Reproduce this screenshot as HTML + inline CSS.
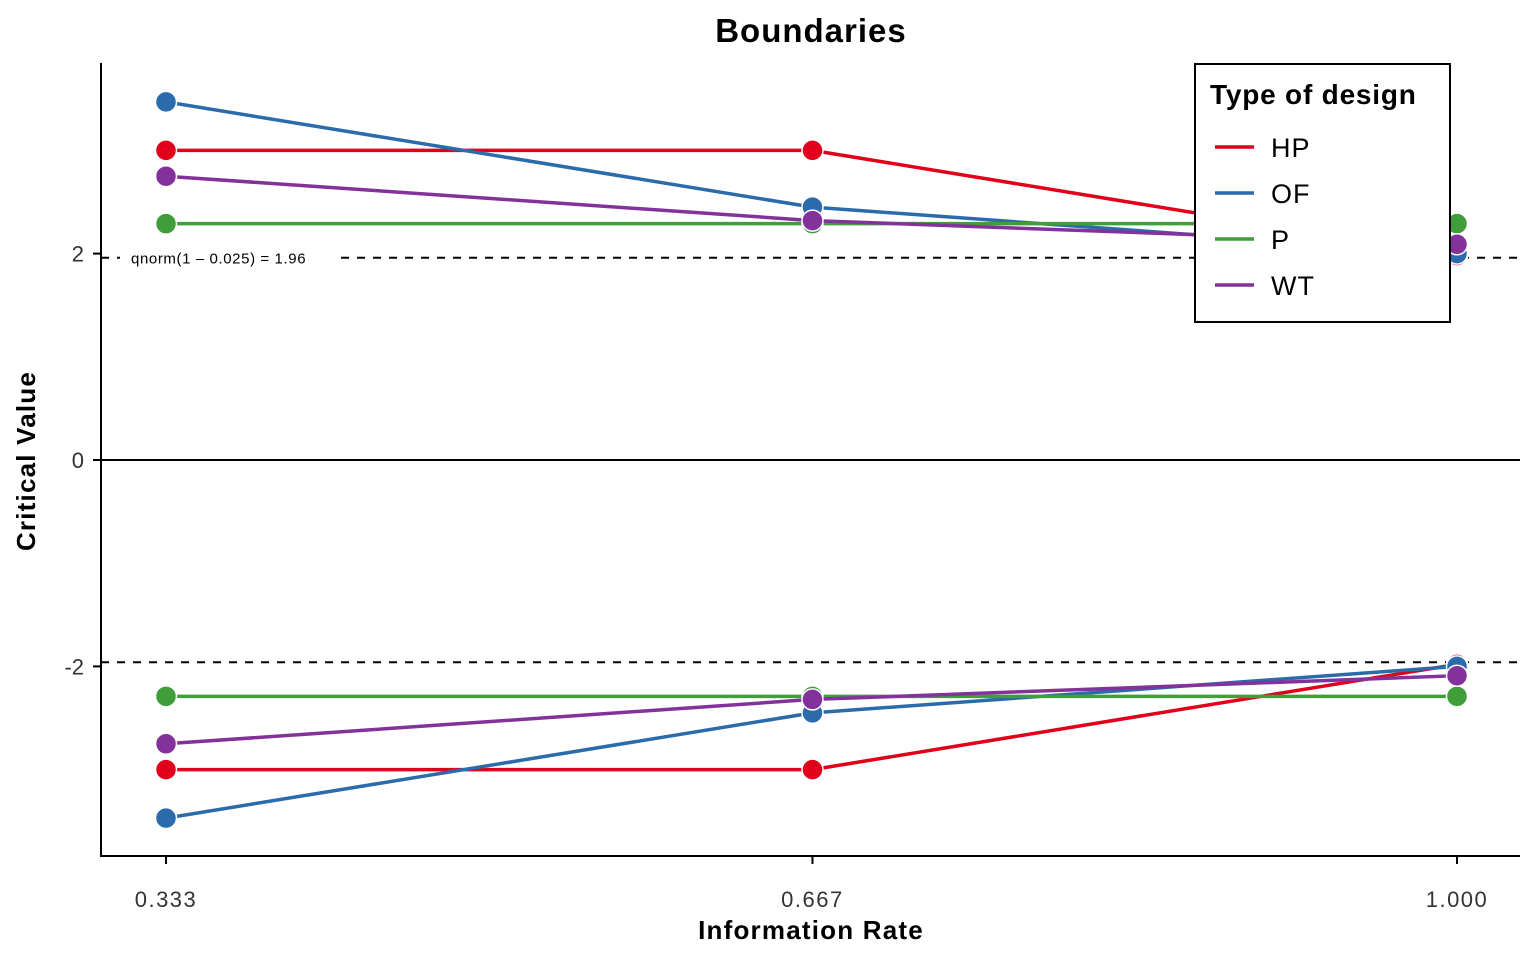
<!DOCTYPE html>
<html><head><meta charset="utf-8">
<style>
html,body{margin:0;padding:0;background:#fff;}
svg{display:block;font-family:"Liberation Sans",Arial,sans-serif;}
</style></head>
<body>
<svg id="chart" width="1536" height="960" viewBox="0 0 1536 960">
<rect width="1536" height="960" fill="#fff"/>
<text x="811" y="42" text-anchor="middle" font-size="33" font-weight="bold" letter-spacing="1">Boundaries</text>
<g id="plot"></g>
<line x1="101" y1="63" x2="101" y2="857" stroke="#000" stroke-width="2"/>
<line x1="100" y1="856" x2="1520" y2="856" stroke="#000" stroke-width="2"/>
<text x="811" y="939" text-anchor="middle" font-size="26" font-weight="bold" letter-spacing="1.2">Information Rate</text>
<text transform="translate(35,461) rotate(-90)" text-anchor="middle" font-size="26" font-weight="bold" letter-spacing="1.2">Critical Value</text>
<g id="legend-layer"></g>
</svg>
<script>
const xValues = [0.333, 0.667, 1.0];
const xTickLabels = ["0.333", "0.667", "1.000"];
const yTicks = [2, 0, -2];
const yTickLabels = ["2", "0", "-2"];
const seriesNames = ["HP", "OF", "P", "WT"];
const seriesColors = ["#e0001b", "#2b6aab", "#3f9e3a", "#84329b"];
const upperHP = [3.0, 3.0, 1.98];
const upperOF = [3.47, 2.45, 2.0];
const upperP = [2.29, 2.29, 2.29];
const upperWT = [2.75, 2.32, 2.09];
const lowerHP = [-3.0, -3.0, -1.98];
const lowerOF = [-3.47, -2.45, -2.0];
const lowerP = [-2.29, -2.29, -2.29];
const lowerWT = [-2.75, -2.32, -2.09];
const criticalLine = 1.96;

const NS = "http://www.w3.org/2000/svg";
function xs(v){ return 166 + (v - 0.333) / (1.0 - 0.333) * (1457 - 166); }
function ys(v){ return 460 - v * 103.2; }
const plot = document.getElementById("plot");
const svg = document.getElementById("chart");
function mk(tag, attrs, parent){
  const e = document.createElementNS(NS, tag);
  for (const k in attrs) e.setAttribute(k, attrs[k]);
  (parent || plot).appendChild(e);
  return e;
}
let z = mk("line", {x1:101, x2:1520, y1:ys(0), y2:ys(0), stroke:"#000", "stroke-width":2});


[criticalLine, -criticalLine].forEach((c, i) => {
  const d = mk("line", {x1:101, x2:1520, y1:ys(c), y2:ys(c), stroke:"#000", "stroke-width":2, "stroke-dasharray":"8,8"});
  
  
});
// annotation with white background
const bg = mk("rect", {x:120, y:ys(criticalLine)-10, width:218, height:20, fill:"#fff"});


const an = mk("text", {x:131, y:ys(criticalLine)+6, "font-size":15, "letter-spacing":"0.6"});
an.textContent = "qnorm(1 – 0.025) = 1.96";


yTicks.forEach((t, i) => {
  const l = mk("line", {x1:93, x2:101, y1:ys(t), y2:ys(t), stroke:"#000", "stroke-width":2}, svg);
  
  
  const tx = mk("text", {x:84, y:ys(t)+8, "text-anchor":"end", "font-size":22, fill:"#333"}, svg);
  tx.textContent = yTickLabels[i];
  
  
});
xValues.forEach((v, i) => {
  const l = mk("line", {x1:xs(v), x2:xs(v), y1:856, y2:864, stroke:"#000", "stroke-width":2}, svg);
  
  
  const tx = mk("text", {x:xs(v), y:907, "text-anchor":"middle", "font-size":22, fill:"#333", "letter-spacing":"1.5"}, svg);
  tx.textContent = xTickLabels[i];
  
  
});
const upper = [upperHP, upperOF, upperP, upperWT];
const lower = [lowerHP, lowerOF, lowerP, lowerWT];
seriesNames.forEach((name, s) => {
  [upper[s], lower[s]].forEach((vals, b) => {
    const pts = vals.map((v, i) => xs(xValues[i]) + "," + ys(v)).join(" ");
    const pl = mk("polyline", {points:pts, fill:"none", stroke:seriesColors[s], "stroke-width":3.5});
    
    
    vals.forEach((v, i) => {
      const c = mk("circle", {cx:xs(xValues[i]), cy:ys(v), r:10.5, fill:seriesColors[s], stroke:"#fff", "stroke-width":1.5});
      
      
    });
  });
});
const lg = document.getElementById("legend-layer");


const box = mk("rect", {x:1195, y:64, width:255, height:258, fill:"#fff", stroke:"#000", "stroke-width":2}, lg);


const lt = mk("text", {x:1210, y:104, "font-size":28, "font-weight":"bold", "letter-spacing":"0.8"}, lg);
lt.textContent = "Type of design";


seriesNames.forEach((name, s) => {
  const y = 147 + s * 46;
  const l = mk("line", {x1:1215, x2:1254, y1:y, y2:y, stroke:seriesColors[s], "stroke-width":3.5}, lg);
  
  
  const t = mk("text", {x:1271, y:y+10, "font-size":27, "letter-spacing":"1"}, lg);
  t.textContent = name;
  
  
});
</script>
</body></html>
